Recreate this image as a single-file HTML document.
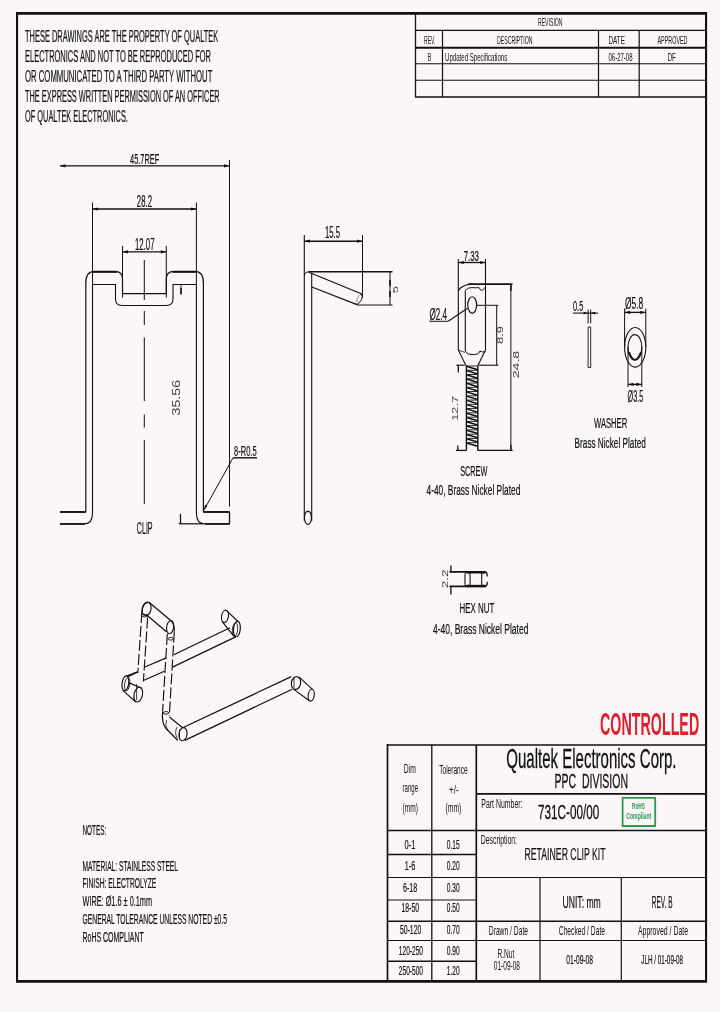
<!DOCTYPE html>
<html><head><meta charset="utf-8"><title>731C-00/00 Retainer Clip Kit</title>
<style>
html,body{margin:0;padding:0;background:#fbf6f8;}
body{width:720px;height:1012px;overflow:hidden;}
svg{display:block;will-change:transform;}
svg text{font-family:"Liberation Sans",sans-serif;}
</style></head><body>
<svg width="720" height="1012" viewBox="0 0 720 1012">
<rect x="0" y="0" width="720" height="1012" fill="#fbf6f8"/>
<g fill="none" stroke="#111111" stroke-linecap="butt" stroke-linejoin="round">
<path d="M16,12 H707.1 V982.8 H16 Z M18.1,14.8 V980 H705 V14.8 Z" fill="#111111" fill-rule="evenodd" stroke="none"/>
<line x1="415.50" y1="14.00" x2="415.50" y2="97.00" stroke-width="1.3" />
<line x1="415.50" y1="30.40" x2="705.00" y2="30.40" stroke-width="1.2" />
<line x1="415.50" y1="47.80" x2="705.00" y2="47.80" stroke-width="2.0" />
<line x1="415.50" y1="63.80" x2="705.00" y2="63.80" stroke-width="1.1" />
<line x1="415.50" y1="80.20" x2="705.00" y2="80.20" stroke-width="1.1" />
<line x1="415.00" y1="97.00" x2="705.00" y2="97.00" stroke-width="1.3" />
<line x1="442.50" y1="30.40" x2="442.50" y2="97.00" stroke-width="1.2" />
<line x1="598.50" y1="30.40" x2="598.50" y2="97.00" stroke-width="1.2" />
<line x1="639.20" y1="30.40" x2="639.20" y2="97.00" stroke-width="1.2" />
<line x1="60.00" y1="165.80" x2="229.50" y2="165.80" stroke-width="1.35" />
<path d="M60.00,165.80 L65.50,164.20 L65.50,167.40 Z" fill="#111111" stroke="none"/>
<path d="M229.50,165.80 L224.00,164.20 L224.00,167.40 Z" fill="#111111" stroke="none"/>
<line x1="229.50" y1="160.00" x2="229.50" y2="506.50" stroke-width="1.0" />
<line x1="92.50" y1="209.00" x2="196.40" y2="209.00" stroke-width="1.35" />
<path d="M92.50,209.00 L98.00,207.40 L98.00,210.60 Z" fill="#111111" stroke="none"/>
<path d="M196.40,209.00 L190.90,207.40 L190.90,210.60 Z" fill="#111111" stroke="none"/>
<line x1="92.50" y1="202.50" x2="92.50" y2="285.00" stroke-width="1.0" />
<line x1="196.40" y1="202.50" x2="196.40" y2="285.00" stroke-width="1.0" />
<line x1="122.50" y1="251.80" x2="166.30" y2="251.80" stroke-width="1.35" />
<path d="M122.50,251.80 L128.00,250.20 L128.00,253.40 Z" fill="#111111" stroke="none"/>
<path d="M166.30,251.80 L160.80,250.20 L160.80,253.40 Z" fill="#111111" stroke="none"/>
<line x1="122.50" y1="246.00" x2="122.50" y2="297.50" stroke-width="1.0" />
<line x1="166.30" y1="246.00" x2="166.30" y2="297.50" stroke-width="1.0" />
<line x1="144.30" y1="260.00" x2="144.30" y2="300.00" stroke-width="1.0" />
<line x1="144.30" y1="311.00" x2="144.30" y2="325.00" stroke-width="1.0" />
<line x1="144.30" y1="337.50" x2="144.30" y2="401.00" stroke-width="1.0" />
<line x1="144.30" y1="414.50" x2="144.30" y2="427.50" stroke-width="1.0" />
<line x1="144.30" y1="440.00" x2="144.30" y2="504.00" stroke-width="1.0" />
<path d="M60,511.8 H85.8 V283 Q85.8,271.3 94.5,271.3 H115 Q122.5,271.3 122.5,279 V293.6 H166.3 V279 Q166.3,271.3 174,271.3 H194.8 Q203.4,271.3 203.4,283 V511.8 H229.5" stroke-width="1.2" />
<line x1="93.00" y1="272.00" x2="117.00" y2="272.00" stroke-width="1.7" />
<line x1="172.50" y1="272.00" x2="196.00" y2="272.00" stroke-width="1.7" />
<path d="M60,523.8 H84.5 Q92.5,523.8 92.5,513 V284.5 H115.5 V299 Q115.5,305.5 122,305.5 H166.5 Q173,305.5 173,299 V284.5 H196.4 V513 Q196.4,523.8 204.5,523.8 H229.5" stroke-width="1.1" />
<line x1="60.00" y1="512.00" x2="85.80" y2="512.00" stroke-width="1.7" />
<line x1="203.40" y1="512.00" x2="229.50" y2="512.00" stroke-width="1.7" />
<line x1="60.00" y1="524.00" x2="85.00" y2="524.00" stroke-width="1.7" />
<line x1="205.00" y1="524.00" x2="229.50" y2="524.00" stroke-width="1.7" />
<line x1="229.50" y1="511.80" x2="229.50" y2="524.00" stroke-width="1.3" />
<line x1="181.00" y1="284.50" x2="181.00" y2="288.50" stroke-width="0.9" />
<line x1="181.00" y1="288.00" x2="181.00" y2="294.60" stroke-width="1.7" />
<line x1="178.80" y1="523.80" x2="204.00" y2="523.80" stroke-width="1.2" />
<line x1="180.50" y1="513.80" x2="180.50" y2="523.80" stroke-width="1.3" />
<line x1="204.00" y1="510.00" x2="233.20" y2="457.60" stroke-width="1.0" />
<path d="M204,510 L205.1,504.6 L207.4,505.9 Z" fill="#111111" stroke="none"/>
<line x1="233.20" y1="457.80" x2="257.00" y2="457.80" stroke-width="1.4" />
<line x1="304.30" y1="235.00" x2="304.30" y2="521.00" stroke-width="1.1" />
<line x1="311.70" y1="273.00" x2="311.70" y2="521.00" stroke-width="1.1" />
<ellipse cx="307.90" cy="517.80" rx="3.50" ry="6.70" stroke-width="1.1" />
<line x1="304.40" y1="241.20" x2="362.50" y2="241.20" stroke-width="1.35" />
<path d="M304.40,241.20 L309.90,239.60 L309.90,242.80 Z" fill="#111111" stroke="none"/>
<path d="M362.50,241.20 L357.00,239.60 L357.00,242.80 Z" fill="#111111" stroke="none"/>
<line x1="362.50" y1="235.00" x2="362.50" y2="297.50" stroke-width="1.0" />
<line x1="308.50" y1="271.80" x2="392.50" y2="271.80" stroke-width="1.6" />
<path d="M304.4,276 Q304.6,271.6 308.8,272" stroke-width="1.0" />
<line x1="308.80" y1="272.30" x2="361.30" y2="293.80" stroke-width="1.2" />
<line x1="311.80" y1="287.00" x2="357.00" y2="304.60" stroke-width="1.2" />
<path d="M361.3,293.8 Q364.5,299 357,304.6" stroke-width="1.0" />
<path d="M361.3,293.8 Q356,297 357,304.6" stroke-width="0.8" stroke-dasharray="1.5 1.2"/>
<line x1="357.00" y1="305.00" x2="392.50" y2="305.00" stroke-width="1.1" />
<line x1="390.00" y1="271.30" x2="390.00" y2="305.00" stroke-width="1.0" />
<line x1="390.00" y1="280.00" x2="390.00" y2="286.00" stroke-width="1.6" />
<line x1="390.00" y1="291.00" x2="390.00" y2="297.00" stroke-width="1.6" />
<line x1="458.30" y1="262.50" x2="485.50" y2="262.50" stroke-width="1.35" />
<path d="M458.30,262.50 L463.80,260.90 L463.80,264.10 Z" fill="#111111" stroke="none"/>
<path d="M485.50,262.50 L480.00,260.90 L480.00,264.10 Z" fill="#111111" stroke="none"/>
<line x1="458.30" y1="259.00" x2="458.30" y2="350.00" stroke-width="1.1" />
<line x1="485.50" y1="259.00" x2="485.50" y2="350.00" stroke-width="1.1" />
<line x1="468.30" y1="284.20" x2="512.50" y2="284.20" stroke-width="1.8" />
<path d="M458.3,291 Q459,288.5 463,286.5 Q466,284.6 469,284.4" stroke-width="1.1" />
<path d="M465.3,290.5 Q468,287.2 472,287.6 Q476,288 479,287.6 Q480.5,291 482.5,290.2 Q484.5,288.5 485.5,287" stroke-width="1.0" />
<line x1="465.30" y1="290.50" x2="465.30" y2="351.00" stroke-width="1.1" />
<path d="M465.3,351 Q467,354.5 471,354.5 Q474.5,354.8 477,354.2 Q479,353.6 480,351 Q481.5,352.5 485.5,351.8" stroke-width="1.0" />
<line x1="458.30" y1="350.00" x2="465.80" y2="365.20" stroke-width="1.1" />
<line x1="485.50" y1="350.00" x2="478.00" y2="365.20" stroke-width="1.1" />
<line x1="458.30" y1="350.00" x2="465.00" y2="352.50" stroke-width="0.8" />
<ellipse cx="472.20" cy="305.00" rx="4.40" ry="8.30" stroke-width="1.15" />
<line x1="476.70" y1="305.30" x2="498.30" y2="305.30" stroke-width="1.0" />
<line x1="496.70" y1="305.30" x2="496.70" y2="365.20" stroke-width="1.0" />
<line x1="456.20" y1="365.20" x2="464.80" y2="365.20" stroke-width="1.1" />
<line x1="478.80" y1="365.20" x2="498.50" y2="365.20" stroke-width="1.1" />
<line x1="458.30" y1="365.20" x2="458.30" y2="372.40" stroke-width="1.3" />
<line x1="466.40" y1="365.20" x2="466.40" y2="450.40" stroke-width="1.4" />
<line x1="477.80" y1="365.20" x2="477.80" y2="450.40" stroke-width="1.4" />
<line x1="466.40" y1="366.00" x2="477.80" y2="366.00" stroke-width="0.9" />
<line x1="466.40" y1="366.30" x2="477.80" y2="369.66" stroke-width="1.5" />
<line x1="466.40" y1="370.26" x2="477.80" y2="370.26" stroke-width="0.9" />
<line x1="466.40" y1="370.56" x2="477.80" y2="373.92" stroke-width="1.5" />
<line x1="466.40" y1="374.52" x2="477.80" y2="374.52" stroke-width="0.9" />
<line x1="466.40" y1="374.82" x2="477.80" y2="378.18" stroke-width="1.5" />
<line x1="466.40" y1="378.78" x2="477.80" y2="378.78" stroke-width="0.9" />
<line x1="466.40" y1="379.08" x2="477.80" y2="382.44" stroke-width="1.5" />
<line x1="466.40" y1="383.04" x2="477.80" y2="383.04" stroke-width="0.9" />
<line x1="466.40" y1="383.34" x2="477.80" y2="386.70" stroke-width="1.5" />
<line x1="466.40" y1="387.30" x2="477.80" y2="387.30" stroke-width="0.9" />
<line x1="466.40" y1="387.60" x2="477.80" y2="390.96" stroke-width="1.5" />
<line x1="466.40" y1="391.56" x2="477.80" y2="391.56" stroke-width="0.9" />
<line x1="466.40" y1="391.86" x2="477.80" y2="395.22" stroke-width="1.5" />
<line x1="466.40" y1="395.82" x2="477.80" y2="395.82" stroke-width="0.9" />
<line x1="466.40" y1="396.12" x2="477.80" y2="399.48" stroke-width="1.5" />
<line x1="466.40" y1="400.08" x2="477.80" y2="400.08" stroke-width="0.9" />
<line x1="466.40" y1="400.38" x2="477.80" y2="403.74" stroke-width="1.5" />
<line x1="466.40" y1="404.34" x2="477.80" y2="404.34" stroke-width="0.9" />
<line x1="466.40" y1="404.64" x2="477.80" y2="408.00" stroke-width="1.5" />
<line x1="466.40" y1="408.60" x2="477.80" y2="408.60" stroke-width="0.9" />
<line x1="466.40" y1="408.90" x2="477.80" y2="412.26" stroke-width="1.5" />
<line x1="466.40" y1="412.86" x2="477.80" y2="412.86" stroke-width="0.9" />
<line x1="466.40" y1="413.16" x2="477.80" y2="416.52" stroke-width="1.5" />
<line x1="466.40" y1="417.12" x2="477.80" y2="417.12" stroke-width="0.9" />
<line x1="466.40" y1="417.42" x2="477.80" y2="420.78" stroke-width="1.5" />
<line x1="466.40" y1="421.38" x2="477.80" y2="421.38" stroke-width="0.9" />
<line x1="466.40" y1="421.68" x2="477.80" y2="425.04" stroke-width="1.5" />
<line x1="466.40" y1="425.64" x2="477.80" y2="425.64" stroke-width="0.9" />
<line x1="466.40" y1="425.94" x2="477.80" y2="429.30" stroke-width="1.5" />
<line x1="466.40" y1="429.90" x2="477.80" y2="429.90" stroke-width="0.9" />
<line x1="466.40" y1="430.20" x2="477.80" y2="433.56" stroke-width="1.5" />
<line x1="466.40" y1="434.16" x2="477.80" y2="434.16" stroke-width="0.9" />
<line x1="466.40" y1="434.46" x2="477.80" y2="437.82" stroke-width="1.5" />
<line x1="466.40" y1="438.42" x2="477.80" y2="438.42" stroke-width="0.9" />
<line x1="466.40" y1="438.72" x2="477.80" y2="442.08" stroke-width="1.5" />
<line x1="466.40" y1="442.68" x2="477.80" y2="442.68" stroke-width="0.9" />
<line x1="466.40" y1="442.98" x2="477.80" y2="446.34" stroke-width="1.5" />
<line x1="456.00" y1="450.40" x2="466.40" y2="450.40" stroke-width="1.3" />
<line x1="477.80" y1="450.40" x2="512.70" y2="450.40" stroke-width="1.3" />
<line x1="457.80" y1="445.60" x2="457.80" y2="450.40" stroke-width="1.3" />
<line x1="510.90" y1="445.00" x2="510.90" y2="450.40" stroke-width="1.3" />
<line x1="510.90" y1="284.20" x2="510.90" y2="450.40" stroke-width="1.0" />
<line x1="510.90" y1="284.20" x2="510.90" y2="291.00" stroke-width="1.5" />
<line x1="429.70" y1="321.30" x2="448.30" y2="321.30" stroke-width="1.0" />
<line x1="448.30" y1="321.30" x2="467.50" y2="308.30" stroke-width="1.1" />
<line x1="573.00" y1="313.10" x2="598.00" y2="313.10" stroke-width="1.1" />
<path d="M588.10,313.10 L583.60,311.70 L583.60,314.50 Z" fill="#111111" stroke="none"/>
<path d="M590.70,313.10 L595.20,311.70 L595.20,314.50 Z" fill="#111111" stroke="none"/>
<line x1="588.10" y1="309.50" x2="588.10" y2="323.30" stroke-width="1.0" />
<line x1="590.70" y1="309.50" x2="590.70" y2="323.30" stroke-width="1.0" />
<rect x="588.1" y="327" width="2.6" height="40.5" stroke-width="0.9"/>
<line x1="624.60" y1="312.40" x2="645.80" y2="312.40" stroke-width="1.35" />
<path d="M624.60,312.40 L630.10,310.80 L630.10,314.00 Z" fill="#111111" stroke="none"/>
<path d="M645.80,312.40 L640.30,310.80 L640.30,314.00 Z" fill="#111111" stroke="none"/>
<line x1="624.60" y1="308.50" x2="624.60" y2="347.00" stroke-width="1.0" />
<line x1="645.80" y1="308.50" x2="645.80" y2="347.00" stroke-width="1.0" />
<ellipse cx="635.20" cy="347.30" rx="10.60" ry="19.80" stroke-width="1.1" />
<ellipse cx="634.90" cy="347.40" rx="6.90" ry="12.80" stroke-width="1.1" />
<path d="M629.2,352 Q634.8,367 640.8,352" stroke-width="1.3" />
<line x1="628.00" y1="347.00" x2="628.00" y2="387.00" stroke-width="1.0" />
<line x1="641.80" y1="347.00" x2="641.80" y2="387.00" stroke-width="1.0" />
<line x1="628.00" y1="384.40" x2="641.80" y2="384.40" stroke-width="1.35" />
<path d="M628.00,384.40 L633.50,382.80 L633.50,386.00 Z" fill="#111111" stroke="none"/>
<path d="M641.80,384.40 L636.30,382.80 L636.30,386.00 Z" fill="#111111" stroke="none"/>
<line x1="449.40" y1="571.90" x2="485.50" y2="571.90" stroke-width="1.7" />
<line x1="449.40" y1="586.40" x2="485.50" y2="586.40" stroke-width="1.7" />
<line x1="466.50" y1="572.30" x2="485.50" y2="572.30" stroke-width="2.3" />
<line x1="466.50" y1="586.00" x2="485.50" y2="586.00" stroke-width="2.3" />
<line x1="450.90" y1="565.60" x2="450.90" y2="571.90" stroke-width="1.3" />
<line x1="450.90" y1="586.40" x2="450.90" y2="594.40" stroke-width="1.3" />
<path d="M466.8,572 Q465,572.3 465,574.5 V584 Q465,586.2 466.8,586.4" stroke-width="1.1" />
<line x1="470.10" y1="572.00" x2="470.10" y2="586.40" stroke-width="1.1" />
<line x1="481.70" y1="572.00" x2="481.70" y2="586.40" stroke-width="1.1" />
<path d="M466.5,572.2 Q468,574.2 470.1,572.6" stroke-width="0.8" />
<path d="M466.5,586.2 Q468,584.2 470.1,585.8" stroke-width="0.8" />
<path d="M485.5,571.9 Q487.6,573 487.2,576.5" stroke-width="1.2" />
<path d="M485.5,586.4 Q487.6,585.3 487.2,581.8" stroke-width="1.2" />
<path d="M481.7,572.6 Q483.5,574.2 485.5,572.2" stroke-width="0.8" />
<path d="M481.7,585.8 Q483.5,584.2 485.5,586.2" stroke-width="0.8" />
<ellipse cx="146.60" cy="608.90" rx="4.40" ry="6.80" stroke-width="1.15" transform="rotate(12 146.6 608.9)"/>
<line x1="149.30" y1="602.40" x2="171.30" y2="621.00" stroke-width="1.25" />
<line x1="147.30" y1="615.60" x2="166.40" y2="631.80" stroke-width="1.25" />
<ellipse cx="170.10" cy="627.20" rx="3.50" ry="6.60" stroke-width="1.15" transform="rotate(8 170.1 627.2)"/>
<path d="M171.3,621 Q174.5,624 174.3,631.5" stroke-width="1.15" />
<path d="M149.3,602.4 Q143,601.5 141.9,612" stroke-width="1.15" />
<ellipse cx="144.80" cy="615.60" rx="2.80" ry="1.30" stroke-width="0.9" />
<ellipse cx="170.80" cy="638.80" rx="2.80" ry="1.30" stroke-width="0.9" />
<line x1="141.90" y1="612.00" x2="137.80" y2="673.00" stroke-width="1.15" stroke-dasharray="11 3"/>
<line x1="147.60" y1="617.50" x2="143.40" y2="681.50" stroke-width="1.15" stroke-dasharray="11 3"/>
<line x1="167.30" y1="634.00" x2="162.60" y2="711.50" stroke-width="1.15" stroke-dasharray="11 3"/>
<line x1="174.30" y1="631.50" x2="169.30" y2="716.00" stroke-width="1.15" stroke-dasharray="11 3"/>
<line x1="173.80" y1="654.70" x2="230.00" y2="627.80" stroke-width="1.25" />
<line x1="172.60" y1="667.10" x2="235.60" y2="636.90" stroke-width="1.25" />
<line x1="144.80" y1="667.00" x2="166.30" y2="657.90" stroke-width="1.25" />
<line x1="144.00" y1="680.30" x2="164.30" y2="671.20" stroke-width="1.25" />
<line x1="128.00" y1="676.60" x2="137.90" y2="672.00" stroke-width="1.25" />
<ellipse cx="225.00" cy="616.30" rx="3.40" ry="6.20" stroke-width="1.15" transform="rotate(10 225 616.3)"/>
<line x1="226.20" y1="610.30" x2="238.60" y2="622.00" stroke-width="1.15" />
<line x1="222.20" y1="621.60" x2="233.80" y2="636.20" stroke-width="1.15" />
<ellipse cx="236.90" cy="629.00" rx="3.40" ry="7.80" stroke-width="1.15" transform="rotate(6 236.9 629)"/>
<ellipse cx="235.00" cy="629.50" rx="2.60" ry="7.00" stroke-width="0.8" transform="rotate(6 235 629.5)"/>
<ellipse cx="125.40" cy="683.40" rx="3.30" ry="7.60" stroke-width="1.15" transform="rotate(8 125.4 683.4)"/>
<ellipse cx="127.20" cy="684.20" rx="2.60" ry="6.60" stroke-width="0.8" transform="rotate(8 127.2 684.2)"/>
<line x1="126.50" y1="676.10" x2="137.30" y2="671.80" stroke-width="1.15" />
<line x1="122.80" y1="690.40" x2="135.80" y2="702.00" stroke-width="1.15" />
<line x1="128.40" y1="682.60" x2="141.80" y2="688.30" stroke-width="1.15" />
<ellipse cx="138.30" cy="694.60" rx="4.20" ry="7.50" stroke-width="1.15" transform="rotate(12 138.3 694.6)"/>
<line x1="136.60" y1="684.00" x2="136.60" y2="700.00" stroke-width="0.8" />
<ellipse cx="166.00" cy="712.90" rx="2.80" ry="1.30" stroke-width="0.9" />
<path d="M162.6,711.5 Q161.5,722 165.5,728 L177.8,740.5" stroke-width="1.15" />
<path d="M169.4,717 L182.6,727.8" stroke-width="1.15" />
<ellipse cx="183.00" cy="734.20" rx="4.00" ry="6.60" stroke-width="1.15" transform="rotate(8 183 734.2)"/>
<path d="M166.5,720 Q164.5,726 168,731" stroke-width="0.8" />
<path d="M177,727 Q174,733 177.5,738.5" stroke-width="0.8" />
<line x1="179.50" y1="729.50" x2="179.50" y2="739.50" stroke-width="0.8" />
<line x1="183.20" y1="727.50" x2="291.30" y2="676.60" stroke-width="1.25" />
<line x1="184.80" y1="740.40" x2="292.20" y2="689.20" stroke-width="1.25" />
<ellipse cx="296.00" cy="683.00" rx="4.60" ry="6.40" stroke-width="1.15" transform="rotate(10 296 683)"/>
<line x1="294.00" y1="678.00" x2="294.00" y2="688.00" stroke-width="0.8" />
<line x1="298.90" y1="676.90" x2="312.70" y2="689.70" stroke-width="1.15" />
<line x1="293.20" y1="688.90" x2="309.60" y2="701.00" stroke-width="1.15" />
<ellipse cx="311.20" cy="695.20" rx="3.00" ry="6.00" stroke-width="1.15" transform="rotate(8 311.2 695.2)"/>
<line x1="387.50" y1="744.20" x2="387.50" y2="981.00" stroke-width="1.7" />
<line x1="386.70" y1="745.00" x2="705.00" y2="745.00" stroke-width="1.7" />
<line x1="431.80" y1="745.00" x2="431.80" y2="981.00" stroke-width="1.3" />
<line x1="476.30" y1="745.00" x2="476.30" y2="981.00" stroke-width="1.7" />
<line x1="476.30" y1="793.80" x2="705.00" y2="793.80" stroke-width="1.7" />
<line x1="387.50" y1="830.50" x2="705.00" y2="830.50" stroke-width="1.7" />
<line x1="387.50" y1="854.50" x2="476.30" y2="854.50" stroke-width="1.6" />
<line x1="387.50" y1="877.50" x2="705.00" y2="877.50" stroke-width="1.2" />
<line x1="387.50" y1="900.00" x2="476.30" y2="900.00" stroke-width="1.2" />
<line x1="387.50" y1="921.30" x2="705.00" y2="921.30" stroke-width="1.6" />
<line x1="387.50" y1="940.50" x2="705.00" y2="940.50" stroke-width="1.1" />
<line x1="387.50" y1="961.30" x2="476.30" y2="961.30" stroke-width="1.6" />
<line x1="540.00" y1="877.50" x2="540.00" y2="981.00" stroke-width="1.2" />
<line x1="621.30" y1="877.50" x2="621.30" y2="981.00" stroke-width="1.2" />
<rect x="622.6" y="797.8" width="32.6" height="28.2" stroke="#2b9a48" stroke-width="1.8"/>
</g>
<g stroke="#111" stroke-width="0.3" stroke-linejoin="round" paint-order="stroke">
<text x="25.00" y="41.70" font-size="16.06" textLength="193.30" lengthAdjust="spacingAndGlyphs" fill="#111111" font-weight="normal"  stroke-width="0.22">THESE DRAWINGS ARE THE PROPERTY OF QUALTEK</text>
<text x="25.00" y="61.70" font-size="16.06" textLength="186.00" lengthAdjust="spacingAndGlyphs" fill="#111111" font-weight="normal"  stroke-width="0.22">ELECTRONICS AND NOT TO BE REPRODUCED FOR</text>
<text x="25.00" y="81.70" font-size="16.06" textLength="187.40" lengthAdjust="spacingAndGlyphs" fill="#111111" font-weight="normal"  stroke-width="0.22">OR COMMUNICATED TO A THIRD PARTY WITHOUT</text>
<text x="25.00" y="101.70" font-size="16.06" textLength="194.70" lengthAdjust="spacingAndGlyphs" fill="#111111" font-weight="normal"  stroke-width="0.22">THE EXPRESS WRITTEN PERMISSION OF AN OFFICER</text>
<text x="25.00" y="121.70" font-size="16.06" textLength="102.90" lengthAdjust="spacingAndGlyphs" fill="#111111" font-weight="normal"  stroke-width="0.22">OF QUALTEK ELECTRONICS.</text>
<text x="538.00" y="26.00" font-size="10.89" textLength="24.50" lengthAdjust="spacingAndGlyphs" fill="#111111" font-weight="normal"  stroke-width="0.0">REVISION</text>
<text x="424.00" y="43.60" font-size="10.89" textLength="11.30" lengthAdjust="spacingAndGlyphs" fill="#111111" font-weight="normal"  stroke-width="0.0">REV.</text>
<text x="497.00" y="43.60" font-size="10.89" textLength="35.50" lengthAdjust="spacingAndGlyphs" fill="#111111" font-weight="normal"  stroke-width="0.0">DESCRIPTION</text>
<text x="608.50" y="43.60" font-size="10.89" textLength="16.50" lengthAdjust="spacingAndGlyphs" fill="#111111" font-weight="normal"  stroke-width="0.0">DATE</text>
<text x="657.50" y="43.60" font-size="10.89" textLength="30.00" lengthAdjust="spacingAndGlyphs" fill="#111111" font-weight="normal"  stroke-width="0.0">APPROVED</text>
<text x="427.80" y="60.60" font-size="11.17" textLength="3.50" lengthAdjust="spacingAndGlyphs" fill="#111111" font-weight="normal"  stroke-width="0.0">B</text>
<text x="445.00" y="60.60" font-size="11.17" textLength="62.30" lengthAdjust="spacingAndGlyphs" fill="#111111" font-weight="normal"  stroke-width="0.0">Updated Specifications</text>
<text x="608.50" y="60.60" font-size="11.17" textLength="24.00" lengthAdjust="spacingAndGlyphs" fill="#111111" font-weight="normal"  stroke-width="0.0">06-27-08</text>
<text x="667.50" y="60.60" font-size="11.17" textLength="8.50" lengthAdjust="spacingAndGlyphs" fill="#111111" font-weight="normal"  stroke-width="0.0">DF</text>
<text x="130.00" y="163.90" font-size="15.36" textLength="29.30" lengthAdjust="spacingAndGlyphs" fill="#111111" font-weight="normal"  stroke-width="0.22">45.7REF</text>
<text x="136.80" y="206.90" font-size="16.20" textLength="15.20" lengthAdjust="spacingAndGlyphs" fill="#111111" font-weight="normal"  stroke-width="0.22">28.2</text>
<text x="135.00" y="249.90" font-size="15.92" textLength="19.50" lengthAdjust="spacingAndGlyphs" fill="#111111" font-weight="normal"  stroke-width="0.22">12.07</text>
<text x="234.00" y="456.40" font-size="15.08" textLength="22.60" lengthAdjust="spacingAndGlyphs" fill="#111111" font-weight="normal"  stroke-width="0.22">8-R0.5</text>
<text x="136.80" y="534.00" font-size="16.48" textLength="15.80" lengthAdjust="spacingAndGlyphs" fill="#111111" font-weight="normal"  stroke-width="0.22">CLIP</text>
<text transform="translate(180.30,415.40) rotate(-90)" x="0" y="0" font-size="10.20" textLength="35.40" lengthAdjust="spacingAndGlyphs" fill="#404040" stroke-width="0" >35.56</text>
<text x="325.00" y="237.80" font-size="15.92" textLength="15.00" lengthAdjust="spacingAndGlyphs" fill="#111111" font-weight="normal"  stroke-width="0.22">15.5</text>
<text transform="translate(397.60,293.20) rotate(-90)" x="0" y="0" font-size="7.82" textLength="7.20" lengthAdjust="spacingAndGlyphs" fill="#404040" stroke-width="0" >5</text>
<text x="463.70" y="261.00" font-size="15.36" textLength="15.30" lengthAdjust="spacingAndGlyphs" fill="#111111" font-weight="normal"  stroke-width="0.22">7.33</text>
<text x="429.50" y="319.80" font-size="16.76" textLength="17.50" lengthAdjust="spacingAndGlyphs" fill="#111111" font-weight="normal"  stroke-width="0.22">Ø2.4</text>
<text transform="translate(503.20,344.00) rotate(-90)" x="0" y="0" font-size="8.66" textLength="18.00" lengthAdjust="spacingAndGlyphs" fill="#404040" stroke-width="0" >8.9</text>
<text transform="translate(518.80,378.30) rotate(-90)" x="0" y="0" font-size="8.94" textLength="27.50" lengthAdjust="spacingAndGlyphs" fill="#404040" stroke-width="0" >24.8</text>
<text transform="translate(457.50,420.80) rotate(-90)" x="0" y="0" font-size="9.22" textLength="25.00" lengthAdjust="spacingAndGlyphs" fill="#404040" stroke-width="0" >12.7</text>
<text x="460.20" y="475.50" font-size="15.08" textLength="27.20" lengthAdjust="spacingAndGlyphs" fill="#111111" font-weight="normal"  stroke-width="0.22">SCREW</text>
<text x="426.50" y="495.40" font-size="15.08" textLength="93.80" lengthAdjust="spacingAndGlyphs" fill="#111111" font-weight="normal"  stroke-width="0.22">4-40, Brass Nickel Plated</text>
<text x="573.00" y="310.90" font-size="15.08" textLength="10.30" lengthAdjust="spacingAndGlyphs" fill="#111111" font-weight="normal"  stroke-width="0.22">0.5</text>
<text x="625.00" y="308.90" font-size="15.64" textLength="18.20" lengthAdjust="spacingAndGlyphs" fill="#111111" font-weight="normal"  stroke-width="0.22">Ø5.8</text>
<text x="627.50" y="401.50" font-size="16.48" textLength="15.70" lengthAdjust="spacingAndGlyphs" fill="#111111" font-weight="normal"  stroke-width="0.22">Ø3.5</text>
<text x="594.00" y="428.30" font-size="15.08" textLength="33.20" lengthAdjust="spacingAndGlyphs" fill="#111111" font-weight="normal"  stroke-width="0.22">WASHER</text>
<text x="574.60" y="448.00" font-size="15.08" textLength="71.20" lengthAdjust="spacingAndGlyphs" fill="#111111" font-weight="normal"  stroke-width="0.22">Brass Nickel Plated</text>
<text transform="translate(448.20,588.30) rotate(-90)" x="0" y="0" font-size="9.78" textLength="18.90" lengthAdjust="spacingAndGlyphs" fill="#404040" stroke-width="0" >2.2</text>
<text x="459.60" y="613.30" font-size="14.80" textLength="34.80" lengthAdjust="spacingAndGlyphs" fill="#111111" font-weight="normal"  stroke-width="0.22">HEX NUT</text>
<text x="432.90" y="634.20" font-size="15.08" textLength="95.50" lengthAdjust="spacingAndGlyphs" fill="#111111" font-weight="normal"  stroke-width="0.22">4-40, Brass Nickel Plated</text>
<text x="82.50" y="835.00" font-size="13.97" textLength="23.80" lengthAdjust="spacingAndGlyphs" fill="#111111" font-weight="normal"  stroke-width="0.22">NOTES:</text>
<text x="82.50" y="870.50" font-size="13.97" textLength="95.50" lengthAdjust="spacingAndGlyphs" fill="#111111" font-weight="normal"  stroke-width="0.22">MATERIAL: STAINLESS STEEL</text>
<text x="82.50" y="888.00" font-size="13.97" textLength="73.80" lengthAdjust="spacingAndGlyphs" fill="#111111" font-weight="normal"  stroke-width="0.22">FINISH: ELECTROLYZE</text>
<text x="82.50" y="906.20" font-size="13.97" textLength="69.50" lengthAdjust="spacingAndGlyphs" fill="#111111" font-weight="normal"  stroke-width="0.22">WIRE: Ø1.6 ± 0.1mm</text>
<text x="82.50" y="923.80" font-size="13.97" textLength="144.50" lengthAdjust="spacingAndGlyphs" fill="#111111" font-weight="normal"  stroke-width="0.22">GENERAL TOLERANCE UNLESS NOTED ±0.5</text>
<text x="82.50" y="941.60" font-size="13.97" textLength="61.30" lengthAdjust="spacingAndGlyphs" fill="#111111" font-weight="normal"  stroke-width="0.22">RoHS COMPLIANT</text>
<text x="600.00" y="735.00" font-size="30.45" textLength="99.20" lengthAdjust="spacingAndGlyphs" fill="#dc1f2a" font-weight="bold" stroke-opacity="0" stroke="#dc1f2a" stroke-width="0.3">CONTROLLED</text>
<text x="403.80" y="772.60" font-size="12.29" textLength="12.00" lengthAdjust="spacingAndGlyphs" fill="#111111" font-weight="normal"  stroke-width="0.0">Dim</text>
<text x="402.50" y="791.60" font-size="12.29" textLength="15.50" lengthAdjust="spacingAndGlyphs" fill="#111111" font-weight="normal"  stroke-width="0.0">range</text>
<text x="402.50" y="812.40" font-size="12.29" textLength="15.50" lengthAdjust="spacingAndGlyphs" fill="#111111" font-weight="normal"  stroke-width="0.0">(mm)</text>
<text x="439.30" y="773.60" font-size="12.29" textLength="28.20" lengthAdjust="spacingAndGlyphs" fill="#111111" font-weight="normal"  stroke-width="0.0">Tolerance</text>
<text x="448.80" y="793.60" font-size="12.29" textLength="10.00" lengthAdjust="spacingAndGlyphs" fill="#111111" font-weight="normal"  stroke-width="0.0">+/-</text>
<text x="445.50" y="812.40" font-size="12.29" textLength="15.80" lengthAdjust="spacingAndGlyphs" fill="#111111" font-weight="normal"  stroke-width="0.0">(mm)</text>
<text x="404.60" y="848.60" font-size="13.69" textLength="10.80" lengthAdjust="spacingAndGlyphs" fill="#111111" font-weight="normal"  stroke-width="0.22">0-1</text>
<text x="446.80" y="848.60" font-size="13.69" textLength="12.80" lengthAdjust="spacingAndGlyphs" fill="#111111" font-weight="normal"  stroke-width="0.22">0.15</text>
<text x="404.80" y="870.40" font-size="13.69" textLength="10.40" lengthAdjust="spacingAndGlyphs" fill="#111111" font-weight="normal"  stroke-width="0.22">1-6</text>
<text x="446.80" y="870.40" font-size="13.69" textLength="12.80" lengthAdjust="spacingAndGlyphs" fill="#111111" font-weight="normal"  stroke-width="0.22">0.20</text>
<text x="403.00" y="891.60" font-size="13.69" textLength="14.20" lengthAdjust="spacingAndGlyphs" fill="#111111" font-weight="normal"  stroke-width="0.22">6-18</text>
<text x="446.80" y="891.60" font-size="13.69" textLength="12.80" lengthAdjust="spacingAndGlyphs" fill="#111111" font-weight="normal"  stroke-width="0.22">0.30</text>
<text x="401.50" y="912.40" font-size="13.69" textLength="17.50" lengthAdjust="spacingAndGlyphs" fill="#111111" font-weight="normal"  stroke-width="0.22">18-50</text>
<text x="446.80" y="912.40" font-size="13.69" textLength="12.80" lengthAdjust="spacingAndGlyphs" fill="#111111" font-weight="normal"  stroke-width="0.22">0.50</text>
<text x="400.00" y="933.60" font-size="13.69" textLength="21.20" lengthAdjust="spacingAndGlyphs" fill="#111111" font-weight="normal"  stroke-width="0.22">50-120</text>
<text x="446.80" y="933.60" font-size="13.69" textLength="12.80" lengthAdjust="spacingAndGlyphs" fill="#111111" font-weight="normal"  stroke-width="0.22">0.70</text>
<text x="398.80" y="954.60" font-size="13.69" textLength="24.20" lengthAdjust="spacingAndGlyphs" fill="#111111" font-weight="normal"  stroke-width="0.22">120-250</text>
<text x="446.80" y="954.60" font-size="13.69" textLength="12.80" lengthAdjust="spacingAndGlyphs" fill="#111111" font-weight="normal"  stroke-width="0.22">0.90</text>
<text x="398.80" y="975.40" font-size="13.69" textLength="24.20" lengthAdjust="spacingAndGlyphs" fill="#111111" font-weight="normal"  stroke-width="0.22">250-500</text>
<text x="446.80" y="975.40" font-size="13.69" textLength="12.80" lengthAdjust="spacingAndGlyphs" fill="#111111" font-weight="normal"  stroke-width="0.22">1.20</text>
<text x="506.30" y="768.30" font-size="28.21" textLength="170.20" lengthAdjust="spacingAndGlyphs" fill="#111111" font-weight="normal"  stroke-width="0.3">Qualtek Electronics Corp.</text>
<text x="554.50" y="788.30" font-size="20.95" textLength="73.50" lengthAdjust="spacingAndGlyphs" fill="#111111" font-weight="normal"  stroke-width="0.3">PPC  DIVISION</text>
<text x="481.30" y="808.30" font-size="12.57" textLength="41.20" lengthAdjust="spacingAndGlyphs" fill="#111111" font-weight="normal"  stroke-width="0.0">Part Number:</text>
<text x="538.00" y="818.80" font-size="20.95" textLength="61.30" lengthAdjust="spacingAndGlyphs" fill="#111111" font-weight="normal"  stroke-width="0.3">731C-00/00</text>
<text x="632.00" y="808.80" font-size="8.66" textLength="13.00" lengthAdjust="spacingAndGlyphs" fill="#2b9a48" font-weight="bold"  stroke="#2b9a48" stroke-width="0.0">RoHS</text>
<text x="626.30" y="819.40" font-size="8.66" textLength="25.00" lengthAdjust="spacingAndGlyphs" fill="#2b9a48" font-weight="bold"  stroke="#2b9a48" stroke-width="0.0">Compliant</text>
<text x="480.80" y="844.00" font-size="12.57" textLength="36.20" lengthAdjust="spacingAndGlyphs" fill="#111111" font-weight="normal"  stroke-width="0.0">Description:</text>
<text x="524.50" y="860.40" font-size="17.32" textLength="81.10" lengthAdjust="spacingAndGlyphs" fill="#111111" font-weight="normal"  stroke-width="0.22">RETAINER CLIP KIT</text>
<text x="562.50" y="908.00" font-size="16.20" textLength="38.30" lengthAdjust="spacingAndGlyphs" fill="#111111" font-weight="normal"  stroke-width="0.22">UNIT: mm</text>
<text x="651.80" y="908.00" font-size="16.20" textLength="20.70" lengthAdjust="spacingAndGlyphs" fill="#111111" font-weight="normal"  stroke-width="0.22">REV. B</text>
<text x="488.80" y="935.00" font-size="13.13" textLength="39.20" lengthAdjust="spacingAndGlyphs" fill="#111111" font-weight="normal"  stroke-width="0.0">Drawn / Date</text>
<text x="558.80" y="935.40" font-size="13.13" textLength="46.20" lengthAdjust="spacingAndGlyphs" fill="#111111" font-weight="normal"  stroke-width="0.0">Checked / Date</text>
<text x="638.00" y="935.40" font-size="13.13" textLength="50.00" lengthAdjust="spacingAndGlyphs" fill="#111111" font-weight="normal"  stroke-width="0.0">Approved / Date</text>
<text x="497.50" y="958.30" font-size="12.29" textLength="16.80" lengthAdjust="spacingAndGlyphs" fill="#111111" font-weight="normal"  stroke-width="0.0">R.Nut</text>
<text x="493.80" y="970.20" font-size="12.29" textLength="26.20" lengthAdjust="spacingAndGlyphs" fill="#111111" font-weight="normal"  stroke-width="0.0">01-09-08</text>
<text x="566.30" y="964.40" font-size="13.69" textLength="26.70" lengthAdjust="spacingAndGlyphs" fill="#111111" font-weight="normal"  stroke-width="0.22">01-09-08</text>
<text x="641.30" y="964.40" font-size="13.69" textLength="41.70" lengthAdjust="spacingAndGlyphs" fill="#111111" font-weight="normal"  stroke-width="0.22">JLH / 01-09-08</text>
</g>
</svg></body></html>
